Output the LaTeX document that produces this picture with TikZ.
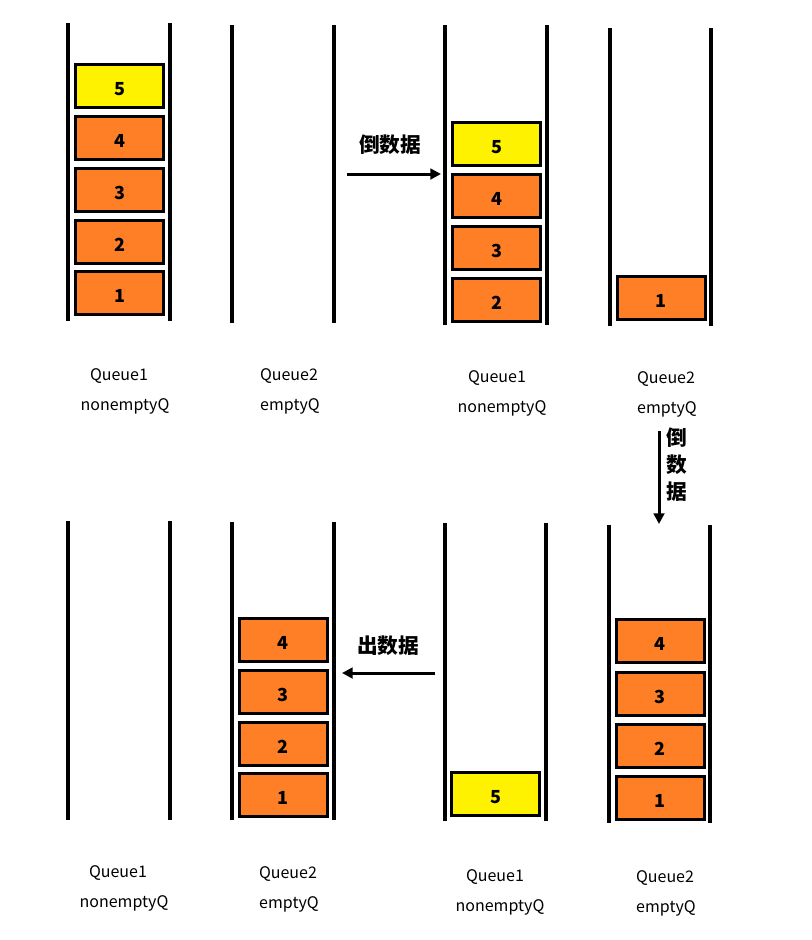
\documentclass[tikz,border=0pt]{standalone}
\usepackage{fontspec}
\setmainfont{Noto Sans CJK SC}
\usetikzlibrary{arrows.meta}
\definecolor{boxorange}{RGB}{255,127,39}
\definecolor{boxyellow}{RGB}{255,242,0}
\begin{document}
\begin{tikzpicture}[x=0.75pt,y=-0.75pt,
  wall/.style={line width=2.4pt},
  cell/.style={draw,line width=2.25pt,minimum width=66pt,minimum height=32.5pt,inner sep=0pt,fill=boxorange,font=\fontsize{13.5pt}{15pt}\selectfont\bfseries,text height=14pt,text depth=0pt},
  ycell/.style={cell,fill=boxyellow},
  lbl/.style={font=\fontsize{12pt}{14pt}\selectfont,inner sep=0pt},
  cn/.style={font=\fontsize{15.5pt}{17pt}\selectfont\bfseries,inner sep=0pt},
  arr/.style={line width=2.25pt,-{Triangle[length=8pt,width=8pt]}}]
\useasboundingbox (0,0) rectangle (812,940);
% ---- top row walls
\draw[wall] (68,23) -- (68,321);   \draw[wall] (170,23) -- (170,321);
\draw[wall] (232,25) -- (232,323); \draw[wall] (334,25) -- (334,323);
\draw[wall] (445,25) -- (445,325); \draw[wall] (547,25) -- (547,325);
\draw[wall] (610,28) -- (610,326); \draw[wall] (711,28) -- (711,326);
% ---- panel 1
\node[ycell] (a5) at (119.5,86) {5};
\node[cell] (a4) at (119.5,138) {4};
\node[cell] (a3) at (119.5,190) {3};
\node[cell] (a2) at (119.5,242) {2};
\node[cell] (a1) at (119.5,293) {1};
% ---- panel 3
\node[ycell] (c5) at (496.5,144) {5};
\node[cell] (c4) at (496.5,196) {4};
\node[cell] (c3) at (496.5,248) {3};
\node[cell] (c2) at (496.5,300) {2};
% ---- panel 4
\node[cell] (d1) at (661,298) {1};
% ---- top labels
\node[lbl] (qa) at (119,376) {Queue1};
\node[lbl] (qan) at (125,406) {nonemptyQ};
\node[lbl] (qb) at (289,376) {Queue2};
\node[lbl] (qbn) at (290,406) {emptyQ};
\node[lbl] (qc) at (497,378) {Queue1};
\node[lbl] (qcn) at (502,408) {nonemptyQ};
\node[lbl] (qd) at (666,379) {Queue2};
\node[lbl] (qdn) at (667,409) {emptyQ};
% ---- arrow top
\node[cn] (t1) at (390,145) {倒数据};
\coordinate (t1s) at (347,174);
\coordinate (t1e) at (441,174);
\draw[arr] (t1s) -- (t1e);
% ---- arrow vertical
\node[cn] (v1) at (677,438) {倒};
\node[cn] (v2) at (677,465) {数};
\node[cn] (v3) at (677,492) {据};
\coordinate (vs) at (659,431);
\coordinate (ve) at (659,524);
\draw[arr] (vs) -- (ve);
% ---- bottom row walls
\draw[wall] (68,521) -- (68,820);   \draw[wall] (170,521) -- (170,820);
\draw[wall] (232,522) -- (232,820); \draw[wall] (334,522) -- (334,820);
\draw[wall] (445,523) -- (445,821); \draw[wall] (546,523) -- (546,821);
\draw[wall] (609,525) -- (609,823); \draw[wall] (710,525) -- (710,823);
% ---- panel 6
\node[cell] (f4) at (283,640) {4};
\node[cell] (f3) at (283,692) {3};
\node[cell] (f2) at (283,744) {2};
\node[cell] (f1) at (283,795) {1};
% ---- panel 7
\node[ycell] (g5) at (495.5,794) {5};
% ---- panel 8
\node[cell] (h4) at (660,641) {4};
\node[cell] (h3) at (660,694) {3};
\node[cell] (h2) at (660,746) {2};
\node[cell] (h1) at (660,798) {1};
% ---- bottom arrow
\node[cn] (t2) at (388,646) {出数据};
\coordinate (t2s) at (435,673);
\coordinate (t2e) at (342,673);
\draw[arr] (t2s) -- (t2e);
% ---- bottom labels
\node[lbl] (ra) at (118,873) {Queue1};
\node[lbl] (ran) at (124,903) {nonemptyQ};
\node[lbl] (rb) at (288,874) {Queue2};
\node[lbl] (rbn) at (289,904) {emptyQ};
\node[lbl] (rc) at (495,877) {Queue1};
\node[lbl] (rcn) at (500,907) {nonemptyQ};
\node[lbl] (rd) at (665,878) {Queue2};
\node[lbl] (rdn) at (666,908) {emptyQ};
\end{tikzpicture}
\end{document}
